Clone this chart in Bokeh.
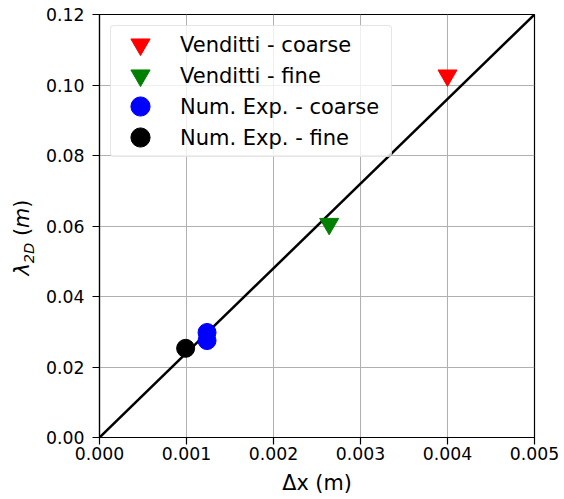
from bokeh.plotting import figure
from bokeh.models import (Range1d, FixedTicker, PrintfTickFormatter, Legend, LegendItem,
                          ColumnDataSource)
from bokeh.layouts import row
from bokeh.core.properties import value
from bokeh.embed import file_html
from bokeh.resources import INLINE

# ---------------- data ----------------
v_coarse_x = [0.0040]
v_coarse_y = [0.1027]
v_fine_x = [0.00264]
v_fine_y = [0.0606]
n_coarse_x = [0.001236, 0.001236]
n_coarse_y = [0.0275, 0.0298]
n_fine_x = [0.00099]
n_fine_y = [0.0253]
line_x = [0.0, 0.005]
line_y = [0.0, 0.12]
x_ticks = [0.0, 0.001, 0.002, 0.003, 0.004, 0.005]
y_ticks = [0.0, 0.02, 0.04, 0.06, 0.08, 0.10, 0.12]
legend_labels = ["Venditti - coarse", "Venditti - fine", "Num. Exp. - coarse", "Num. Exp. - fine"]

FONT = "DejaVu Sans"
TICK_FS = "17.3px"
LAB_FS = 20.8
SUB_FS = 14.6
# DejaVu Sans advance widths (em)
ADV = {"λ": 0.592, "2D": 1.406, "(": 0.390, "m": 0.974, ")": 0.390}
SPACE = 0.318
MID = 0.346  # distance baseline -> middle of the text box (em)

H = 499

# ---------------- main plot ----------------
p = figure(width=524, height=H, output_backend="svg", toolbar_location=None,
           x_range=Range1d(0, 0.005), y_range=Range1d(0, 0.12), title=None,
           min_border_left=59, min_border_right=30, min_border_top=14, min_border_bottom=62)
p.background_fill_color = "white"
p.border_fill_color = "white"
p.outline_line_color = "black"
p.outline_line_width = 1.2

for ax in (p.xaxis[0], p.yaxis[0]):
    ax.axis_line_color = "black"
    ax.axis_line_width = 1.2
    ax.major_tick_line_color = "black"
    ax.major_tick_line_width = 1.2
    ax.major_tick_out = 7
    ax.major_tick_in = 0
    ax.minor_tick_line_color = None
    ax.major_label_text_font = FONT
    ax.major_label_text_font_size = TICK_FS
    ax.major_label_text_color = "black"

p.yaxis.axis_label = None
p.xaxis.axis_label = "Δx (m)"
p.xaxis.axis_label_text_font = FONT
p.xaxis.axis_label_text_font_size = f"{LAB_FS}px"
p.xaxis.axis_label_text_font_style = "normal"
p.xaxis.axis_label_text_color = "black"
p.xaxis.axis_label_standoff = 8

p.xaxis.major_label_standoff = 2
p.yaxis.major_label_standoff = 8
p.xaxis.ticker = FixedTicker(ticks=x_ticks)
p.yaxis.ticker = FixedTicker(ticks=y_ticks)
p.xaxis.formatter = PrintfTickFormatter(format="%.3f")
p.yaxis.formatter = PrintfTickFormatter(format="%.2f")

p.grid.grid_line_color = "#b0b0b0"
p.grid.grid_line_width = 1

p.line(line_x, line_y, line_color="black", line_width=2.5)

r1 = p.scatter(v_coarse_x, v_coarse_y, marker="inverted_triangle", size=19, color="red")
r2 = p.scatter(v_fine_x, v_fine_y, marker="inverted_triangle", size=19, color="green")
r3 = p.scatter(n_coarse_x, n_coarse_y, marker="circle", size=18, color="blue")
r4 = p.scatter(n_fine_x, n_fine_y, marker="circle", size=18, color="black")
renderers = [r1, r2, r3, r4]

# main legend (box + labels)
legend = Legend(items=[LegendItem(label=lab, renderers=[r]) for lab, r in zip(legend_labels, renderers)],
                location="top_left")
legend.label_text_font = FONT
legend.label_text_font_size = "21px"
legend.label_text_color = "black"
legend.label_height = 31
legend.glyph_height = 31
legend.glyph_width = 54
legend.label_width = 208
legend.spacing = 0
legend.padding = 3
legend.margin = 11
legend.label_standoff = 12
legend.border_line_color = "#cccccc"
legend.border_line_width = 1
legend.border_radius = 4
legend.background_fill_alpha = 0.8
p.add_layout(legend)

# larger legend markers drawn over the legend's own glyph boxes
row_bottoms = [369.5, 338.5, 307.5, 276.5]
for r, yb in zip(renderers, row_bottoms):
    lg = Legend(items=[LegendItem(label="", renderers=[r])], location=(17, yb))
    lg.glyph_width = 48
    lg.glyph_height = 48
    lg.label_width = 0
    lg.label_height = 0
    lg.label_standoff = 0
    lg.padding = 0
    lg.margin = 0
    lg.spacing = 0
    lg.border_line_color = None
    lg.background_fill_alpha = 0
    lg.label_text_font_size = "1px"
    p.add_layout(lg)


def piece_centers(parts, sizes, gaps, start):
    """Centres of consecutive text pieces (gaps = spaces before a piece)."""
    out = []
    pos = start
    for t, fs, g in zip(parts, sizes, gaps):
        pos += g * SPACE * fs
        w = ADV[t] * fs
        out.append(pos + w / 2)
        pos += w
    return out, pos


# ---------------- y-axis label (with subscript) ----------------
ylab = figure(frame_width=40, frame_height=H, output_backend="svg", toolbar_location=None,
              title=None, x_range=Range1d(0, 40), y_range=Range1d(0, H),
              x_axis_type=None, y_axis_type=None, min_border=0)
ylab.outline_line_color = None
ylab.background_fill_color = "white"
ylab.border_fill_color = "white"
y_parts = ["λ", "2D", "(", "m", ")"]
y_sizes = [LAB_FS, SUB_FS, LAB_FS, LAB_FS, LAB_FS]
y_gaps = [0, 0, 1, 0, 0]
y_styles = ["italic", "italic", "normal", "italic", "normal"]
y_baselines = [29, 33, 29, 29, 29]
y_mid_x = [b - MID * fs for b, fs in zip(y_baselines, y_sizes)]
ys, _ = piece_centers(y_parts, y_sizes, y_gaps, H - 261)
ylab.text(x="x", y="y", text="text", source=ColumnDataSource(dict(
    x=y_mid_x, y=ys, text=y_parts, fs=[f"{s}px" for s in y_sizes], st=y_styles)),
    angle=1.5707963, text_font=value(FONT), text_font_size="fs", text_font_style="st",
    text_color="black", text_baseline="middle", text_align="center")

layout = row(ylab, p)
open("out.html", "w").write(file_html(layout, INLINE))
